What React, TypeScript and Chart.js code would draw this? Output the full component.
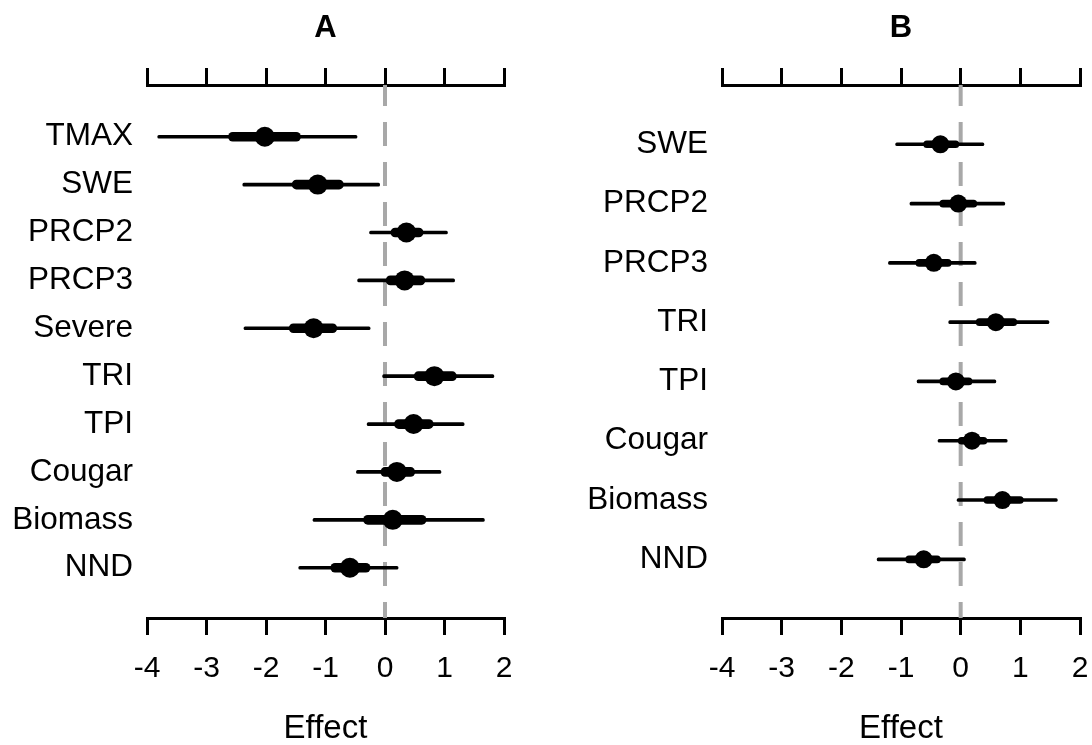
import React, { useEffect, useRef } from 'react';
import { Chart, registerables } from 'chart.js';

Chart.register(...registerables);

// Panel A
const namesA = ['TMAX', 'SWE', 'PRCP2', 'PRCP3', 'Severe', 'TRI', 'TPI', 'Cougar', 'Biomass', 'NND'];
const meanA = [-2.02, -1.13, 0.36, 0.33, -1.2, 0.83, 0.48, 0.2, 0.13, -0.59];
const lo95A = [-3.82, -2.39, -0.26, -0.46, -2.37, -0.04, -0.3, -0.48, -1.21, -1.45];
const hi95A = [-0.47, -0.09, 1.05, 1.17, -0.25, 1.83, 1.33, 0.94, 1.67, 0.22];
const lo50A = [-2.63, -1.56, 0.1, 0.02, -1.61, 0.49, 0.16, -0.07, -0.36, -0.91];
const hi50A = [-1.42, -0.7, 0.64, 0.67, -0.81, 1.2, 0.81, 0.5, 0.69, -0.25];

// Panel B
const namesB = ['SWE', 'PRCP2', 'PRCP3', 'TRI', 'TPI', 'Cougar', 'Biomass', 'NND'];
const meanB = [-0.34, -0.04, -0.45, 0.59, -0.08, 0.19, 0.7, -0.62];
const lo95B = [-1.09, -0.85, -1.21, -0.2, -0.73, -0.38, -0.06, -1.4];
const hi95B = [0.39, 0.74, 0.26, 1.48, 0.59, 0.78, 1.62, 0.08];
const lo50B = [-0.62, -0.35, -0.75, 0.26, -0.35, -0.04, 0.39, -0.92];
const hi50B = [-0.03, 0.27, -0.16, 0.94, 0.19, 0.44, 1.05, -0.34];

const xTicks = [-4, -3, -2, -1, 0, 1, 2];
const xTitle = 'Effect';

const FONT = "'Liberation Sans', Arial, Helvetica, sans-serif";

type PanelProps = {
  title: string;
  names: string[];
  mean: number[];
  lo95: number[];
  hi95: number[];
  lo50: number[];
  hi50: number[];
  leftWidth: number;
  rightPad: number;
  thick: number;
  dot: number;
  padTop: number;
  padBottom: number;
};

function Panel(p: PanelProps) {
  const ref = useRef<HTMLCanvasElement | null>(null);
  useEffect(() => {
    if (!ref.current) return;
    const n = p.names.length;
    const yMin = 1 - p.padTop;
    const yMax = n + p.padBottom;
    const setXTicks = (s: any) => {
      s.ticks = xTicks.map((v) => ({ value: v }));
    };
    const gridOpts = {
      drawOnChartArea: false,
      drawTicks: true,
      tickLength: 17,
      color: '#000',
      lineWidth: 3,
      tickWidth: 3,
      tickColor: '#000',
    };
    const chart = new Chart(ref.current, {
      type: 'bar',
      data: {
        datasets: [
          {
            type: 'line',
            data: [
              { x: 0, y: yMin },
              { x: 0, y: yMax },
            ],
            borderColor: '#a8a8a8',
            borderWidth: 4,
            borderDash: [24, 16],
            borderDashOffset: 3,
            pointRadius: 0,
            fill: false,
            order: 10,
            xAxisID: 'x',
            yAxisID: 'y',
          } as any,
          {
            type: 'bar',
            data: p.names.map((_, i) => ({ y: i + 1, x: [p.lo95[i], p.hi95[i]] })),
            backgroundColor: '#000',
            barThickness: 3,
            grouped: false,
            borderRadius: 1.5,
            borderSkipped: false,
            order: 3,
            xAxisID: 'x',
            yAxisID: 'y',
          } as any,
          {
            type: 'bar',
            data: p.names.map((_, i) => ({ y: i + 1, x: [p.lo50[i], p.hi50[i]] })),
            backgroundColor: '#000',
            barThickness: p.thick,
            grouped: false,
            borderRadius: p.thick / 2,
            borderSkipped: false,
            order: 2,
            xAxisID: 'x',
            yAxisID: 'y',
          } as any,
          {
            type: 'scatter',
            data: p.names.map((_, i) => ({ y: i + 1, x: p.mean[i] })),
            backgroundColor: '#000',
            borderWidth: 0,
            pointRadius: p.dot,
            order: 1,
            xAxisID: 'x',
            yAxisID: 'y',
          } as any,
        ],
      },
      options: {
        indexAxis: 'y',
        animation: false,
        responsive: false,
        devicePixelRatio: 1,
        events: [],
        layout: { padding: { left: 0, right: p.rightPad, top: 0, bottom: 0 } },
        plugins: {
          legend: { display: false },
          tooltip: { enabled: false },
          title: { display: false },
        },
        scales: {
          xTop: {
            type: 'linear',
            axis: 'x',
            position: 'top',
            min: -4,
            max: 2,
            afterBuildTicks: setXTicks,
            afterFit: (s: any) => {
              s.height = 85;
              s.paddingLeft = 0;
              s.paddingRight = 0;
            },
            ticks: { display: false },
            grid: gridOpts,
            border: { display: true, color: '#000', width: 3 },
            title: {
              display: true,
              text: p.title,
              color: '#000',
              font: { family: FONT, size: 31, weight: 'bold', lineHeight: 1 },
              padding: { top: 13, bottom: 0 },
            },
          },
          x: {
            type: 'linear',
            position: 'bottom',
            min: -4,
            max: 2,
            afterBuildTicks: setXTicks,
            afterFit: (s: any) => {
              s.height = 745 - 618;
              s.paddingLeft = 0;
              s.paddingRight = 0;
            },
            ticks: {
              color: '#000',
              font: { family: FONT, size: 30, lineHeight: 1 },
              padding: 19,
              maxRotation: 0,
              autoSkip: false,
              callback: (v: any) => String(v),
            },
            grid: gridOpts,
            border: { display: true, color: '#000', width: 3 },
            title: {
              display: true,
              text: xTitle,
              color: '#000',
              font: { family: FONT, size: 33, lineHeight: 1 },
              padding: { top: 0, bottom: 0 },
            },
          },
          y: {
            type: 'linear',
            position: 'left',
            min: yMin,
            max: yMax,
            reverse: true,
            offset: false,
            afterBuildTicks: (s: any) => {
              s.ticks = p.names.map((_, i) => ({ value: i + 1 }));
            },
            afterFit: (s: any) => {
              s.width = p.leftWidth;
            },
            ticks: {
              color: '#000',
              font: { family: FONT, size: 31.5 },
              padding: 14,
              autoSkip: false,
              callback: (v: any) => p.names[Math.round(Number(v)) - 1] ?? '',
            },
            grid: { display: false, drawTicks: false, offset: false },
            border: { display: false },
          },
        },
      } as any,
    });
    return () => chart.destroy();
  }, []);
  return <canvas ref={ref} width={546} height={745} style={{ display: 'block', width: 546, height: 745 }} />;
}

export default function App() {
  return (
    <div
      style={{
        position: 'fixed',
        left: 0,
        top: 0,
        width: 1092,
        height: 745,
        background: '#fff',
        display: 'flex',
        flexDirection: 'row',
      }}
    >
      <Panel
        title="A"
        names={namesA}
        mean={meanA}
        lo95={lo95A}
        hi95={hi95A}
        lo50={lo50A}
        hi50={hi50A}
        leftWidth={147}
        rightPad={42}
        thick={9}
        dot={10}
        padTop={1.08}
        padBottom={1.05}
      />
      <Panel
        title="B"
        names={namesB}
        mean={meanB}
        lo95={lo95B}
        hi95={hi95B}
        lo50={lo50B}
        hi50={hi50B}
        leftWidth={176}
        rightPad={12}
        thick={7}
        dot={9}
        padTop={1.0}
        padBottom={0.99}
      />
    </div>
  );
}
